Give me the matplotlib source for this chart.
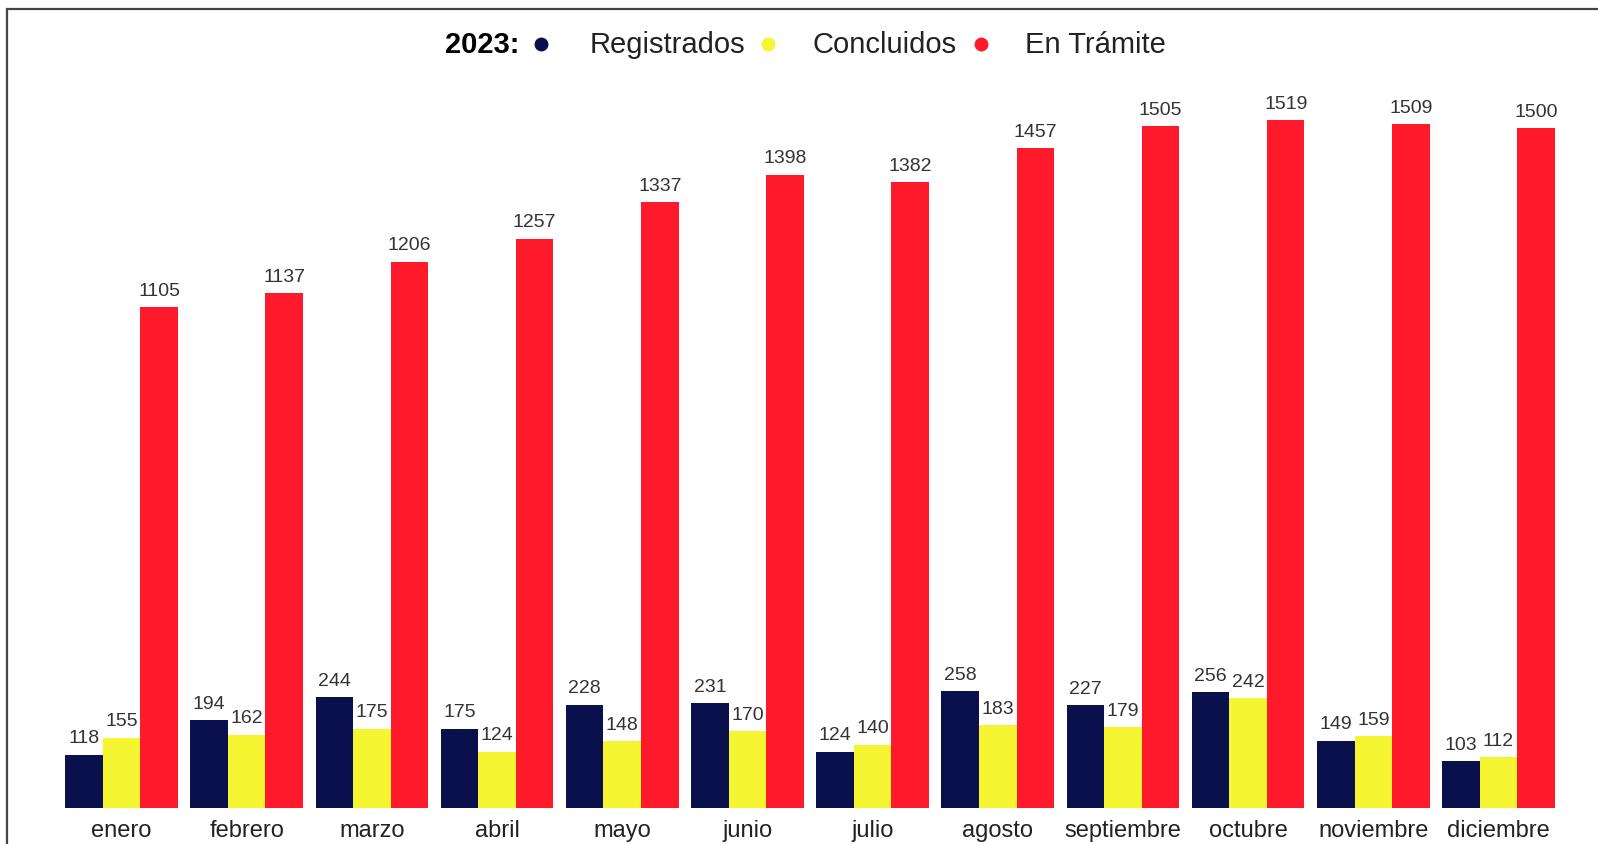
import numpy as np
import matplotlib.pyplot as plt
from matplotlib.lines import Line2D
from matplotlib.patches import Rectangle

plt.rcParams['font.family'] = ['Liberation Sans', 'DejaVu Sans']

meses = ["enero", "febrero", "marzo", "abril", "mayo", "junio", "julio",
         "agosto", "septiembre", "octubre", "noviembre", "diciembre"]
registrados = [118, 194, 244, 175, 228, 231, 124, 258, 227, 256, 149, 103]
concluidos = [155, 162, 175, 124, 148, 170, 140, 183, 179, 242, 159, 112]
en_tramite = [1105, 1137, 1206, 1257, 1337, 1398, 1382, 1457, 1505, 1519, 1509, 1500]

series = ["Registrados", "Concluidos", "En Trámite"]
colores = ["#0A104C", "#F5F532", "#FF1A2B"]

W, H = 1598, 845
fig = plt.figure(figsize=(W / 100, H / 100), dpi=100)

# axes placed in pixel terms (left, bottom, right, top)
left, right, top, bottom = 20, 1590, 62, 809
ax = fig.add_axes([left / W, 1 - bottom / H, (right - left) / W, (bottom - top) / H])

x = np.arange(len(meses))
w = 0.3
for k, (vals, col) in enumerate(zip([registrados, concluidos, en_tramite], colores)):
    pos = x + (k - 1) * w
    ax.bar(pos, vals, width=w, color=col, edgecolor="none")
    for p, v in zip(pos, vals):
        ax.annotate(str(v), (p, v), xytext=(0, 6), textcoords="offset points",
                    ha="center", va="bottom", fontsize=14, color="#333333")

ax.set_xlim(-0.811, 11.731)
ax.set_ylim(0, 1649)
ax.set_xticks(x)
ax.set_xticklabels(meses, fontsize=17, color="#222222")
ax.tick_params(axis="x", length=0, pad=8)
ax.set_yticks([])
for s in ax.spines.values():
    s.set_visible(False)

# outer frame (only top and left visible in the crop)
fig.add_artist(Rectangle((7 / W, -0.2), 1.2, 1.2 - 10 / H, transform=fig.transFigure,
                         fill=False, edgecolor="#444444", linewidth=1.6))

# legend row
ly = 1 - 45 / H
fig.text(445 / W, ly, "2023:", fontsize=21, fontweight="bold", va="center", ha="left")
dots_x = [541, 768, 981]
labels_x = [590, 813, 1025]
for dx, lx, lab, col in zip(dots_x, labels_x, series, colores):
    fig.add_artist(Line2D([dx / W], [ly], marker="o", markersize=9, color=col,
                          linestyle="none", transform=fig.transFigure))
    fig.text(lx / W, ly, lab, fontsize=21, va="center", ha="left", color="#222222")

fig.savefig("out.png", dpi=100)
